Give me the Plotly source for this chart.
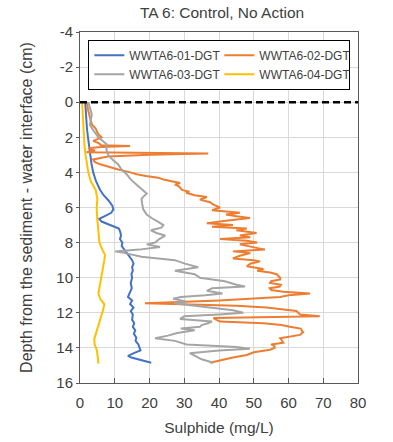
import plotly.graph_objects as go

# ---- data (depth in cm, sulphide in mg/L) ----
d01 = [0.0, 0.5, 1.0, 1.5, 2.0, 2.5, 3.0, 3.5, 4.0, 4.5, 5.0, 5.3, 5.6, 5.9, 6.1, 6.3, 6.5, 6.65, 6.8, 7.0,
       7.2, 7.4, 7.6, 7.8, 8.0, 8.2, 8.4, 8.6, 8.8, 9.0, 9.2, 9.4, 9.6, 9.8, 10.0, 10.3, 10.6, 10.9, 11.1, 11.3,
       11.5, 11.7, 11.9, 12.1, 12.4, 12.6, 12.8, 13.0, 13.2, 13.4, 13.6, 13.8, 14.0, 14.15, 14.3, 14.45, 14.55, 14.7, 14.85]
v01 = [1.5, 1.6, 1.8, 2.0, 2.3, 2.6, 2.9, 3.3, 3.8, 4.6, 5.8, 6.8, 8.2, 9.3, 9.6, 9.0, 7.0, 5.5, 6.2, 8.5,
       11.2, 11.6, 11.8, 11.5, 12.2, 12.0, 12.8, 13.6, 14.4, 15.0, 15.4, 15.0, 15.2, 14.8, 15.0, 14.6, 14.9, 14.2, 13.8, 15.0,
       14.4, 15.4, 14.6, 15.2, 15.0, 15.6, 15.2, 15.9, 15.5, 16.2, 16.0, 16.8, 17.2, 17.4, 15.5, 13.8, 14.8, 17.5, 20.5]

d02 = [0.0, 0.3, 0.5, 0.9, 1.26, 1.5, 1.83, 2.0, 2.2, 2.35, 2.45, 2.5, 2.55, 2.62, 2.75, 2.85, 2.93, 3.0, 3.1, 3.26,
       3.4, 3.54, 3.7, 3.83, 4.0, 4.1, 4.2, 4.3, 4.4, 4.5, 4.6, 4.7, 4.8, 5.0, 5.1, 5.16, 5.3, 5.4, 5.55, 5.7,
       5.85, 6.0, 6.15, 6.3, 6.4, 6.5, 6.6, 6.75, 6.9, 7.0, 7.1, 7.2, 7.3, 7.45, 7.6, 7.7, 7.8, 7.9, 8.0, 8.1,
       8.25, 8.4, 8.5, 8.6, 8.75, 8.9, 9.0, 9.07, 9.2, 9.35, 9.5, 9.6, 9.7, 9.8, 10.0, 10.1, 10.2, 10.3, 10.4, 10.5,
       10.6, 10.7, 10.8, 10.9, 11.0, 11.1, 11.3, 11.45, 11.6, 11.7, 11.8, 11.9, 12.0, 12.1, 12.2, 12.25, 12.3, 12.4, 12.5, 12.6,
       12.7, 12.8, 12.9, 13.0, 13.1, 13.26, 13.35, 13.45, 13.55, 13.7, 13.8, 13.9, 14.0, 14.1, 14.25, 14.4, 14.55, 14.7, 14.85]
v02 = [1.9, 2.1, 2.4, 2.9, 3.4, 4.5, 5.3, 6.2, 3.8, 5.5, 6.0, 14.4, 6.0, 2.4, 4.3, 1.9, 36.9, 20.0, 8.0, 3.8,
       4.2, 5.8, 8.5, 11.0, 14.5, 16.3, 19.0, 22.5, 24.0, 26.4, 28.8, 27.3, 28.5, 29.3, 31.5, 30.5, 33.0, 36.5, 34.5, 37.4,
       38.5, 40.3, 38.0, 46.0, 42.0, 45.0, 48.9, 42.0, 36.5, 44.0, 38.0, 48.0, 45.0, 50.8, 46.0, 49.0, 40.3, 48.0, 51.0, 46.0,
       50.0, 53.2, 44.0, 49.0, 46.0, 44.0, 50.0, 51.8, 49.0, 48.0, 52.8, 51.0, 54.7, 56.6, 57.6, 57.6, 55.0, 54.7, 57.8, 57.5,
       54.6, 55.0, 58.5, 66.2, 60.0, 57.6, 40.0, 18.7, 45.0, 53.7, 58.0, 62.3, 62.8, 63.3, 69.0, 50.0, 38.4, 39.3, 40.3, 52.8,
       58.0, 60.4, 63.5, 63.8, 64.2, 63.3, 60.0, 57.6, 58.0, 58.5, 55.0, 56.0, 56.0, 54.7, 50.0, 48.0, 44.0, 40.3, 37.4]

d03 = [0.0, 0.3, 0.7, 1.0, 1.3, 1.6, 2.0, 2.4, 2.7, 3.0, 3.3, 3.55, 3.8, 4.1, 4.4, 4.7, 5.0, 5.2, 5.35, 5.5,
       5.8, 6.1, 6.4, 6.6, 6.8, 7.0, 7.15, 7.3, 7.45, 7.6, 7.8, 8.0, 8.1, 8.25, 8.4, 8.5, 8.6, 8.8, 9.0, 9.2,
       9.4, 9.6, 9.8, 10.0, 10.2, 10.4, 10.5, 10.6, 10.75, 10.9, 11.0, 11.1, 11.2, 11.35, 11.45, 11.55, 11.7, 11.85, 12.0, 12.1,
       12.2, 12.35, 12.5, 12.6, 12.7, 12.8, 12.9, 13.0, 13.15, 13.3, 13.45, 13.6, 13.8, 13.95, 14.05, 14.15, 14.3, 14.5, 14.65, 14.85]
v03 = [2.4, 2.9, 3.4, 3.1, 2.9, 3.8, 5.3, 7.7, 7.6, 8.1, 9.5, 11.0, 11.8, 13.4, 14.6, 16.3, 18.2, 19.2, 18.4, 17.7,
       17.9, 18.2, 19.2, 20.6, 22.4, 24.0, 23.4, 20.4, 22.0, 24.5, 22.8, 21.6, 19.2, 23.0, 17.0, 10.1, 13.0, 17.7, 27.3, 30.2,
       34.0, 27.3, 33.0, 34.5, 41.7, 45.0, 47.5, 38.0, 36.5, 41.0, 36.0, 29.0, 26.8, 30.5, 27.0, 31.0, 38.0, 44.0, 47.0, 40.0,
       30.0, 28.8, 38.0, 36.8, 35.0, 34.5, 29.0, 33.0, 28.0, 25.3, 21.6, 27.3, 30.7, 45.0, 48.9, 40.0, 31.6, 33.6, 35.0, 38.4]

d04 = [0.0, 0.5, 1.0, 1.5, 2.0, 2.5, 3.0, 3.5, 4.0, 4.5, 5.0, 5.5, 6.0, 6.5, 7.0, 7.5, 8.0, 8.4, 8.7, 9.0,
       9.5, 10.0, 10.5, 10.9, 11.2, 11.5, 11.8, 12.2, 12.6, 13.0, 13.5, 13.8, 14.1, 14.5, 14.9]
v04 = [0.6, 0.7, 0.8, 0.9, 1.1, 1.3, 1.6, 2.0, 2.4, 3.1, 4.5, 5.0, 4.8, 4.9, 5.1, 5.3, 5.6, 6.4, 7.2, 7.0,
       6.5, 6.0, 5.7, 5.3, 5.8, 7.0, 6.7, 6.1, 5.5, 4.8, 4.1, 4.2, 4.8, 5.1, 5.3]

series = [
    ("WWTA6-01-DGT", d01, v01, "#4472C4"),
    ("WWTA6-02-DGT", d02, v02, "#ED7D31"),
    ("WWTA6-03-DGT", d03, v03, "#A5A5A5"),
    ("WWTA6-04-DGT", d04, v04, "#FFC000"),
]

x_ticks = [0, 10, 20, 30, 40, 50, 60, 70, 80]
y_ticks = [-4, -2, 0, 2, 4, 6, 8, 10, 12, 14, 16]
y_tick_labels = ["-4", "-2", "0", "2", "4", "6", "8", "10", "12", "14", "16"]
interface_depth = 0

FONT = "Liberation Sans, Arial, sans-serif"
TXT = "#404040"

fig = go.Figure()
for name, d, v, c in series:
    fig.add_trace(go.Scatter(x=v, y=d, mode="lines", name=name,
                             line=dict(color=c, width=2)))

fig.add_hline(y=interface_depth, line=dict(color="black", width=2.5, dash="7px,4px"))

fig.update_layout(
    width=393, height=442,
    margin=dict(l=80, r=35, t=32, b=59, autoexpand=False),
    paper_bgcolor="white", plot_bgcolor="white",
    font=dict(family=FONT, color=TXT),
    title=dict(text="TA 6: Control, No Action", x=0.565, xanchor="center",
               y=1 - 13 / 442, yanchor="middle", font=dict(size=15.5, color=TXT)),
    legend=dict(orientation="h", x=0.03, xanchor="left", y=0.978, yanchor="top",
                entrywidth=85, entrywidthmode="pixels",
                bordercolor="black", borderwidth=1, bgcolor="white",
                font=dict(size=12, color=TXT), tracegroupgap=0),
    showlegend=True,
)
fig.update_xaxes(range=[0, 80], tickvals=x_ticks, showgrid=True, gridcolor="#d9d9d9", gridwidth=1,
                 showline=True, linecolor="#595959", linewidth=1, mirror=True, automargin=False,
                 ticks="inside", ticklen=5, tickcolor="#595959", zeroline=False,
                 tickfont=dict(size=15, color=TXT), ticklabelstandoff=6,
                 title=dict(text="Sulphide (mg/L)", font=dict(size=15.5, color=TXT), standoff=12))
fig.update_yaxes(range=[16, -4], tickvals=y_ticks, ticktext=y_tick_labels,
                 showgrid=True, gridcolor="#d9d9d9", gridwidth=1,
                 showline=True, linecolor="#595959", linewidth=1, mirror=True, automargin=False,
                 ticks="outside", ticklen=3, tickcolor="#595959", zeroline=False,
                 tickfont=dict(size=15, color=TXT),
                 title=dict(text="Depth from the sediment - water interface (cm)",
                            font=dict(size=16, color=TXT), standoff=19))

fig.write_html("out.html")
